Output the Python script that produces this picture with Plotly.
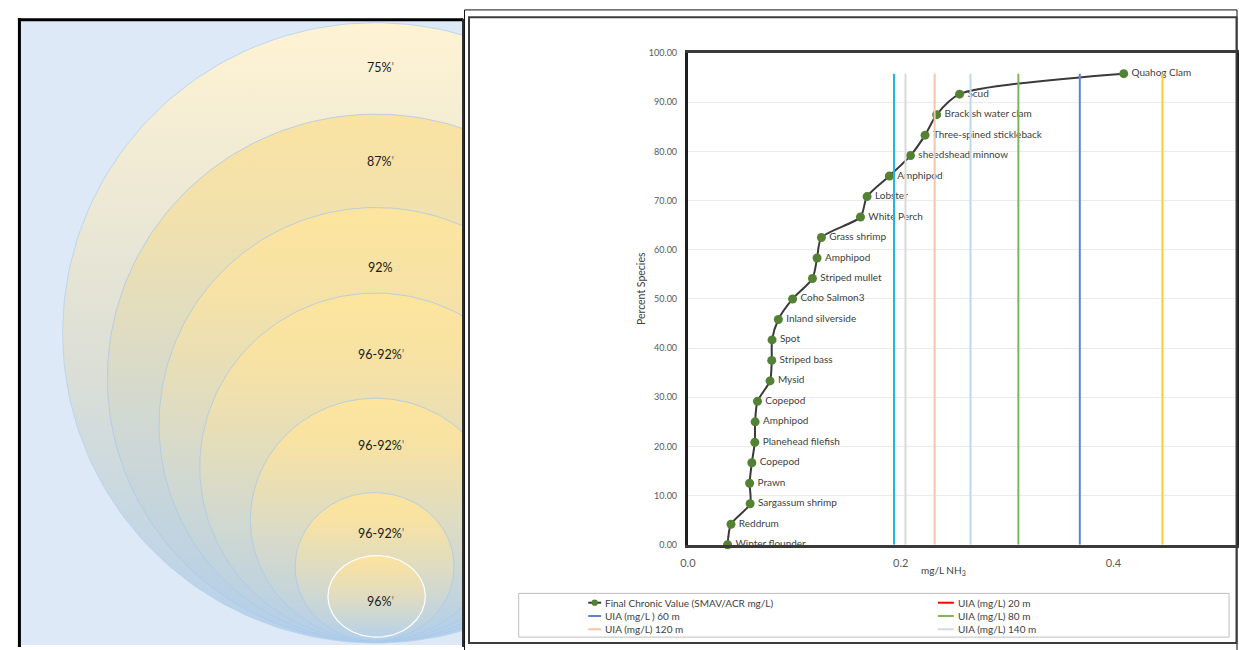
import numpy as np
import plotly.graph_objects as go

W, H = 1239, 650
FONT = "Lato, 'Open Sans', sans-serif"

# ---------------- species sensitivity distribution ----------------
species = ["Winter flounder", "Reddrum", "Sargassum shrimp", "Prawn", "Copepod",
           "Planehead filefish", "Amphipod", "Copepod", "Mysid", "Striped bass", "Spot",
           "Inland silverside", "Coho Salmon3", "Striped mullet", "Amphipod", "Grass shrimp",
           "White Perch", "Lobster", "Amphipod", "sheedshead minnow",
           "Three-spined stickleback", "Brackish water clam", "Scud", "Quahog Clam"]
chronic_value = [0.0373, 0.0405, 0.0585, 0.0580, 0.0601, 0.0629, 0.0632, 0.0654,
                 0.0772, 0.0788, 0.0791, 0.0850, 0.0984, 0.1171, 0.1214, 0.1255,
                 0.1622, 0.1684, 0.1893, 0.2092, 0.2229, 0.2338, 0.2553, 0.4096]
percent_species = [0.00, 4.17, 8.33, 12.50, 16.67, 20.83, 25.00, 29.17, 33.33, 37.50,
                   41.67, 45.83, 50.00, 54.17, 58.33, 62.50, 66.67, 70.83, 75.00,
                   79.17, 83.33, 87.50, 91.67, 95.83]
fcv_label = "Final Chronic Value (SMAV/ACR mg/L)"

# UIA thresholds (vertical reference lines)
uia_labels = ["UIA (mg/L) 20 m", "UIA (mg/L ) 60 m", "UIA (mg/L) 80 m",
              "UIA (mg/L) 120 m", "UIA (mg/L) 140 m"]
uia_values = [None, 0.3683, 0.3106, 0.2319, 0.2045]
uia_colors = ["#ff0000", "#5b83d1", "#7fb55a", "#f7c4a5", "#d9d9d9"]
uia_extra_values = [0.1937, 0.2656, 0.4460]
uia_extra_colors = ["#1cb5ee", "#bdd7ee", "#ffcc33"]

x_ticks = [0.0, 0.2, 0.4]
y_ticks = [0, 10, 20, 30, 40, 50, 60, 70, 80, 90, 100]

# ---------------- nested ring graphic ----------------
ring_labels = ["75%", "87%", "92%", "96-92%", "96-92%", "96-92%", "96%"]
ring_marks = [True, True, False, True, True, True, True]


def px(x):
    return x / W


def py(y):
    return 1 - y / H


# ring geometry in pixels: centre x, top, bottom, horizontal radius, label y
ring_geom = [
    (370, 17, 648, 315, 63),
    (370, 110, 647, 270, 158),
    (370, 205, 647, 218, 266),
    (370, 292, 646, 177, 354),
    (370, 399, 646, 126, 447),
    (369, 495, 646, 80, 537),
    (371, 559, 642, 49, 606),
]
ring_scales = [
    [[0, "#b5d1ec"], [0.45, "#dcdfd6"], [1, "#fff3d3"]],
    [[0, "#b3cfea"], [0.4, "#cfd8d4"], [0.8, "#f1e1ad"], [1, "#fae3a2"]],
    [[0, "#b3cfea"], [0.4, "#d3d9cf"], [0.8, "#f6e2a6"], [1, "#fde59e"]],
    [[0, "#b3cfea"], [0.4, "#d6dacb"], [0.8, "#f7e2a4"], [1, "#fde59d"]],
    [[0, "#b3cfea"], [0.4, "#d6dacb"], [0.8, "#f7e2a4"], [1, "#fde59d"]],
    [[0, "#b3cfea"], [0.4, "#d6dacb"], [0.8, "#f7e2a4"], [1, "#fde59d"]],
    [[0, "#b6d1ea"], [0.5, "#e1dcc0"], [1, "#fde39c"]],
]
ring_lines = ["#b4d0ee", "#a9c9ea", "#a9c9ea", "#a9c9ea", "#a9c9ea", "#a9c9ea", "#ffffff"]

fig = go.Figure()

theta = np.linspace(0, 2 * np.pi, 240)
for (cx, top, bot, rx, _), cs, lc in zip(ring_geom, ring_scales, ring_lines):
    cy = (top + bot) / 2
    ry = (bot - top) / 2
    ex = cx + rx * np.cos(theta)
    ey = H - (cy + ry * np.sin(theta))
    fig.add_trace(go.Scatter(
        x=ex, y=ey, mode="lines", fill="toself",
        fillgradient=dict(type="vertical", colorscale=cs),
        line=dict(color=lc, width=1.2 if lc == "#ffffff" else 0.8),
        xaxis="x2", yaxis="y2", hoverinfo="skip", showlegend=False))

for lbl, mark, (cx, _, _, _, ly) in zip(ring_labels, ring_marks, ring_geom):
    txt = lbl + ("<span style='color:#777'>'</span>" if mark else "")
    fig.add_annotation(x=px(375), y=py(ly), xref="paper", yref="paper",
                       text=txt, showarrow=False, xanchor="center", yanchor="middle",
                       font=dict(family=FONT, size=12.5, color="#1a1a1a"))

# ---------------- main chart ----------------
point_text = ["\u2009" + s for s in species]
fig.add_trace(go.Scatter(
    x=chronic_value, y=percent_species, name=fcv_label,
    mode="lines+markers+text", text=point_text, textposition="middle right",
    textfont=dict(family=FONT, size=10, color="#404040"),
    line=dict(color="#3a3a3a", width=2, shape="spline", smoothing=0.7),
    marker=dict(size=9, color="#548235"),
    cliponaxis=False, showlegend=False))

top_pct = percent_species[-1]
for name, v, c in zip(uia_labels, uia_values, uia_colors):
    if v is None:
        continue
    fig.add_trace(go.Scatter(x=[v, v], y=[0, top_pct], mode="lines", name=name,
                             line=dict(color=c, width=2), showlegend=False))
for v, c in zip(uia_extra_values, uia_extra_colors):
    fig.add_trace(go.Scatter(x=[v, v], y=[0, top_pct], mode="lines", name="UIA (mg/L)",
                             line=dict(color=c, width=2), showlegend=False))

x_left, x_right = 684.3, 1236
x_scale = 1071.0
y_top, y_bot = 48, 548

fig.update_layout(
    width=W, height=H, margin=dict(l=0, r=0, t=0, b=0),
    paper_bgcolor="white", plot_bgcolor="white", showlegend=False,
    font=dict(family=FONT, color="#404040"),
    xaxis=dict(domain=[px(x_left), px(x_right)], range=[0, (x_right - x_left) / x_scale],
               tickvals=x_ticks, ticktext=[f"{t:.1f}" for t in x_ticks],
               tickfont=dict(size=11, color="#595959"), ticks="", showgrid=False,
               zeroline=False, showline=True, linecolor="#3a3a3a", linewidth=3, mirror=True,
               ticklabelstandoff=6),
    yaxis=dict(domain=[py(y_bot), py(y_top)], range=[0, 100],
               tickvals=y_ticks, ticktext=[f"{t:.2f}" for t in y_ticks],
               tickfont=dict(size=9, color="#595959"), ticks="", showgrid=True,
               gridcolor="#ebebeb", gridwidth=1, zeroline=False, showline=True,
               linecolor="#1e1e1e", linewidth=3, mirror=True, ticklabelstandoff=6),
    xaxis2=dict(domain=[px(10), px(458)], range=[10, 458], visible=False, fixedrange=True),
    yaxis2=dict(domain=[0, py(13)], range=[0, H - 13], visible=False, fixedrange=True),
)

# axis titles
fig.add_annotation(x=px(637), y=py(287), xref="paper", yref="paper", text="Percent Species",
                   textangle=-90, showarrow=False, font=dict(size=10.5, color="#404040"))
fig.add_annotation(x=px(966), y=py(583), xref="paper", yref="paper",
                   text="mg/L NH<sub>3</sub>", showarrow=False,
                   font=dict(size=10, color="#404040"))

# panel frames
shapes = [
    dict(type="rect", xref="paper", yref="paper", x0=px(10), x1=px(458), y0=py(650), y1=py(13),
         fillcolor="#dde9f6", line=dict(width=0), layer="below"),
    dict(type="line", xref="paper", yref="paper", x0=px(11.5), x1=px(11.5), y0=py(652), y1=py(12.5),
         line=dict(color="#000000", width=3)),
    dict(type="line", xref="paper", yref="paper", x0=px(10), x1=px(458), y0=py(14), y1=py(14),
         line=dict(color="#000000", width=3)),
    dict(type="line", xref="paper", yref="paper", x0=px(458), x1=px(458), y0=py(652), y1=py(13),
         line=dict(color="#2a2a2a", width=2)),
    dict(type="rect", xref="paper", yref="paper", x0=px(459.5), x1=px(1237), y0=py(662), y1=py(4),
         line=dict(color="#111111", width=1)),
    dict(type="rect", xref="paper", yref="paper", x0=px(464), x1=px(1236.5), y0=py(648), y1=py(11.5),
         line=dict(color="#3c3c3c", width=2)),
    # legend box
    dict(type="rect", xref="paper", yref="paper", x0=px(514), x1=px(1229), y0=py(642), y1=py(597.5),
         line=dict(color="#bfbfbf", width=1)),
]

# legend entries: two columns, three rows
legend_items = [(fcv_label, "#3a3a3a", True)] + [(n, c, False) for n, c in zip(uia_labels, uia_colors)]
col_x = [(584, 598), (936, 953)]
row_y = [607, 620.5, 634]
for i, (name, color, has_marker) in enumerate(legend_items):
    col, row = i % 2, i // 2
    x0, tx = col_x[col]
    yy = row_y[row]
    shapes.append(dict(type="line", xref="paper", yref="paper", x0=px(x0), x1=px(tx - 1),
                       y0=py(yy), y1=py(yy), line=dict(color=color, width=2)))
    if has_marker:
        mx = (x0 + tx - 1) / 2
        shapes.append(dict(type="circle", xref="paper", yref="paper",
                           x0=px(mx - 3.2), x1=px(mx + 3.2), y0=py(yy + 3.2), y1=py(yy - 3.2),
                           fillcolor="#548235", line=dict(width=0)))
    fig.add_annotation(x=px(tx + 1), y=py(yy), xref="paper", yref="paper", text=name,
                       showarrow=False, xanchor="left", yanchor="middle",
                       font=dict(size=10, color="#404040"))

fig.update_layout(shapes=shapes)

fig.write_html("out.html", post_script="document.body.style.margin='0';")
